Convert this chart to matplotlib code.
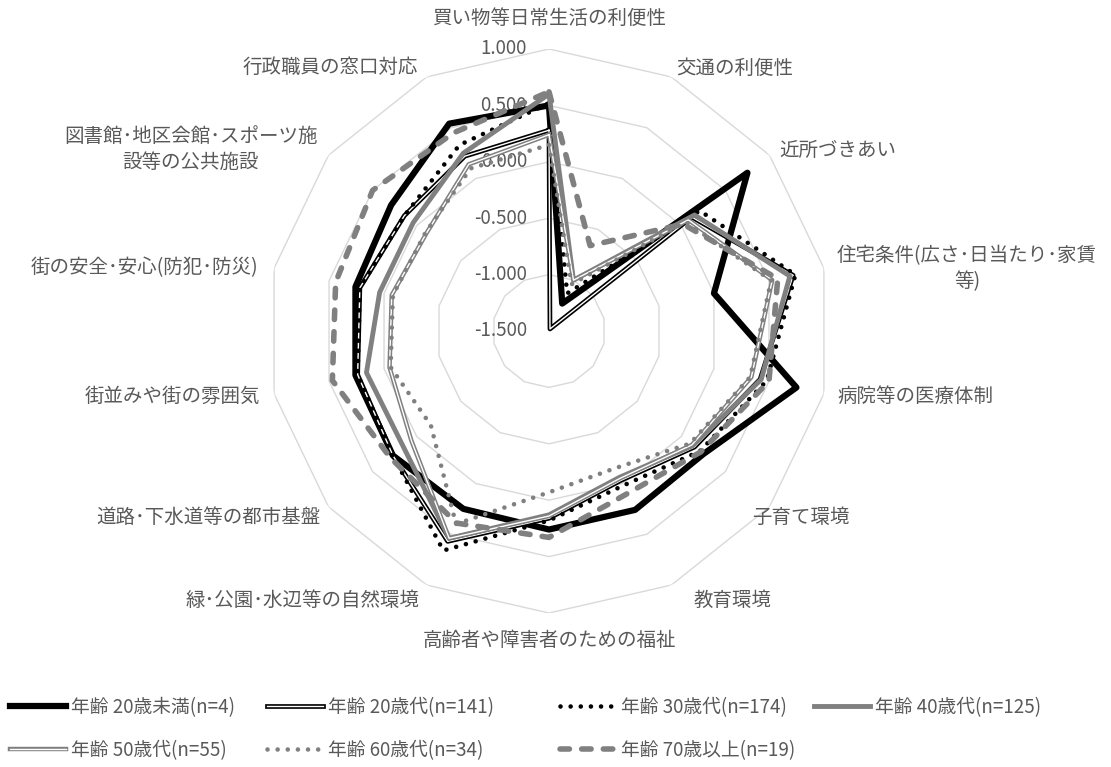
import matplotlib
matplotlib.use("Agg")
import matplotlib.pyplot as plt
import matplotlib.patheffects as pe
import numpy as np

plt.rcParams['font.family'] = ['Noto Sans CJK JP', 'DejaVu Sans']

categories = [
    "買い物等日常生活の利便性", "交通の利便性", "近所づきあい",
    "住宅条件(広さ･日当たり･家賃\n等)", "病院等の医療体制", "子育て環境",
    "教育環境", "高齢者や障害者のための福祉", "緑･公園･水辺等の自然環境",
    "道路･下水道等の都市基盤", "街並みや街の雰囲気", "街の安全･安心(防犯･防災)",
    "図書館･地区会館･スポーツ施\n設等の公共施設", "行政職員の窓口対応",
]

age_u20 = [0.50, -1.23, 0.75, 0.00, 0.75, 0.25, 0.26, 0.26, 0.25, 0.27, 0.26, 0.26, 0.29, 0.54]
age_20s = [0.28, -1.48, 0.12, 0.72, 0.42, 0.15, -0.03, 0.16, 0.57, 0.27, 0.24, 0.22, 0.14, 0.22]
age_30s = [0.52, -1.13, 0.21, 0.74, 0.48, 0.21, 0.02, 0.18, 0.66, 0.27, 0.24, 0.22, 0.14, 0.33]
age_40s = [0.60, -1.00, 0.15, 0.69, 0.43, 0.13, -0.06, 0.13, 0.54, 0.15, 0.16, 0.04, 0.04, 0.25]
age_50s = [0.24, -1.00, 0.08, 0.53, 0.34, 0.12, -0.05, 0.14, 0.54, 0.06, -0.05, -0.07, -0.11, 0.14]
age_60s = [0.15, -1.04, 0.05, 0.52, 0.33, 0.10, -0.15, -0.07, 0.40, -0.16, -0.06, -0.08, -0.10, 0.10]
age_70p = [0.62, -0.66, 0.02, 0.58, 0.50, 0.22, 0.10, 0.33, 0.39, 0.30, 0.47, 0.44, 0.50, 0.45]

series_names = ["年齢 20歳未満(n=4)", "年齢 20歳代(n=141)", "年齢 30歳代(n=174)",
                "年齢 40歳代(n=125)", "年齢 50歳代(n=55)", "年齢 60歳代(n=34)",
                "年齢 70歳以上(n=19)"]

levels = [-1.5, -1.0, -0.5, 0.0, 0.5, 1.0]

# label offsets (pixels) and alignment for category names
label_layout = [
    ((0, 31), 'center'), ((5, 9), 'left'), ((10, 5), 'left'), ((13, 0), 'left'),
    ((13, -3), 'left'), ((-17, -11), 'left'), ((22, -15), 'left'), ((0, -27), 'center'),
    ((-7, -15), 'right'), ((-8, -11), 'right'), ((-14, -3), 'right'), ((-16, 1), 'right'),
    ((-11, 6), 'right'), ((-9, 10), 'right'),
]

fig = plt.figure(figsize=(11.11, 7.67), dpi=100)
ax = fig.add_axes([267 / 1111, 154 / 767, 564 / 1111, 564 / 767], projection='polar')
ax.set_theta_zero_location('N')
ax.set_theta_direction(-1)
ax.set_ylim(-1.5, 1.0)
ax.grid(False)
ax.spines['polar'].set_visible(False)
ax.set_xticks([])
ax.set_yticks([])

n = len(categories)
theta = np.linspace(0, 2 * np.pi, n, endpoint=False)
theta_c = np.append(theta, theta[0])

def closed(vals):
    return np.append(vals, vals[0])

for lv in levels[1:]:
    ax.plot(theta_c, [lv] * (n + 1), color='#d9d9d9', lw=1.0, zorder=1)

for lv in levels:
    ax.annotate(f"{lv:.3f}", xy=(0, lv), xytext=(-22, 0), textcoords='offset pixels',
                ha='right', va='center', fontsize=13.5, color='#595959', zorder=2)

for k, name in enumerate(categories):
    (dx, dy), ha = label_layout[k]
    ax.annotate(name, xy=(theta[k], 1.0), xytext=(dx, dy), textcoords='offset pixels',
                ha=ha, va='center', multialignment='center', fontsize=14,
                color='#595959', linespacing=1.3, annotation_clip=False)

gray = '#808080'
double_black = [pe.Stroke(linewidth=3.4, foreground='black'), pe.Normal()]
double_gray = [pe.Stroke(linewidth=3.2, foreground=gray), pe.Normal()]

h1, = ax.plot(theta_c, closed(age_u20), color='black', lw=4.5, zorder=3)
h2, = ax.plot(theta_c, closed(age_20s), color='white', lw=1.0, zorder=3,
              path_effects=double_black)
h3, = ax.plot(theta_c, closed(age_30s), color='black', lw=3.3, linestyle=(0, (0.01, 2.2)),
              dash_capstyle='round', zorder=3)
h4, = ax.plot(theta_c, closed(age_40s), color=gray, lw=3.5, zorder=3)
h5, = ax.plot(theta_c, closed(age_50s), color='white', lw=1.0, zorder=3,
              path_effects=double_gray)
h6, = ax.plot(theta_c, closed(age_60s), color=gray, lw=3.3, linestyle=(0, (0.01, 2.2)),
              dash_capstyle='round', zorder=3)
h7, = ax.plot(theta_c, closed(age_70p), color=gray, lw=4.0, linestyle=(0, (1.7, 2.2)),
              dash_capstyle='round', zorder=3)

handles = [h1, h2, h3, h4, h5, h6, h7]

# one legend per column, Excel style spacing
columns = [[0, 4], [1, 5], [2, 6], [3]]
col_x = [2, 259, 552, 806]
for idx, x0 in zip(columns, col_x):
    leg = fig.legend([handles[i] for i in idx], [series_names[i] for i in idx],
                     loc='upper left', bbox_to_anchor=(x0 / 1111, 0.101), frameon=False,
                     fontsize=13.5, handlelength=3.0, handletextpad=0.3,
                     labelspacing=1.16, borderaxespad=0.0)
    for t in leg.get_texts():
        t.set_color('#595959')

fig.savefig('out.png', dpi=100)
